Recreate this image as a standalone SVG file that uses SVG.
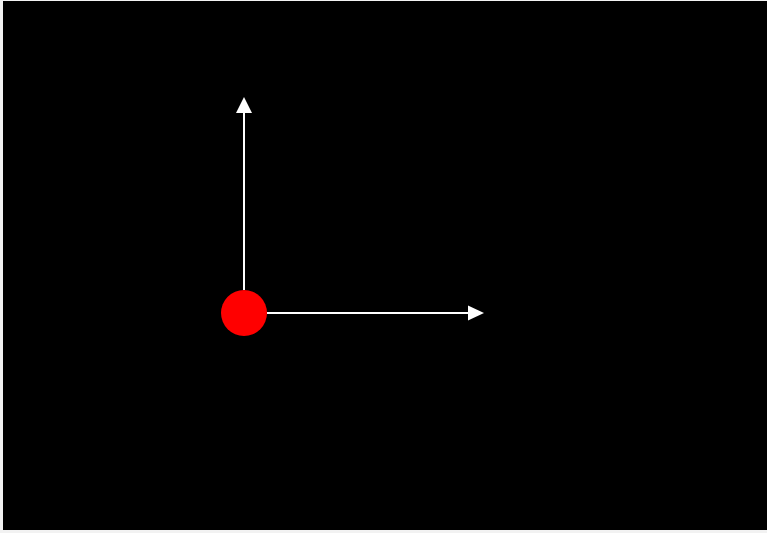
<svg xmlns="http://www.w3.org/2000/svg" width="767" height="533" viewBox="0 0 767 533">
<style>
.ax{stroke:#fff;stroke-width:2;fill:none}
.hd{fill:#fff}
</style>
<rect x="0" y="0" width="767" height="533" fill="#f2f2f2"/>
<rect x="3" y="1" width="764" height="529" fill="#000"/>
<g id="connectors">
<line class="ax" x1="244" y1="290" x2="244" y2="112"/>
<polygon class="hd" points="244,97 252,113 236,113"/>
<line class="ax" x1="267" y1="313" x2="469" y2="313"/>
<polygon class="hd" points="484,313 468,305.5 468,320.5"/>
</g>
<g id="origin">
<circle cx="244" cy="313" r="23" fill="#ff0000"/>
</g>
</svg>
